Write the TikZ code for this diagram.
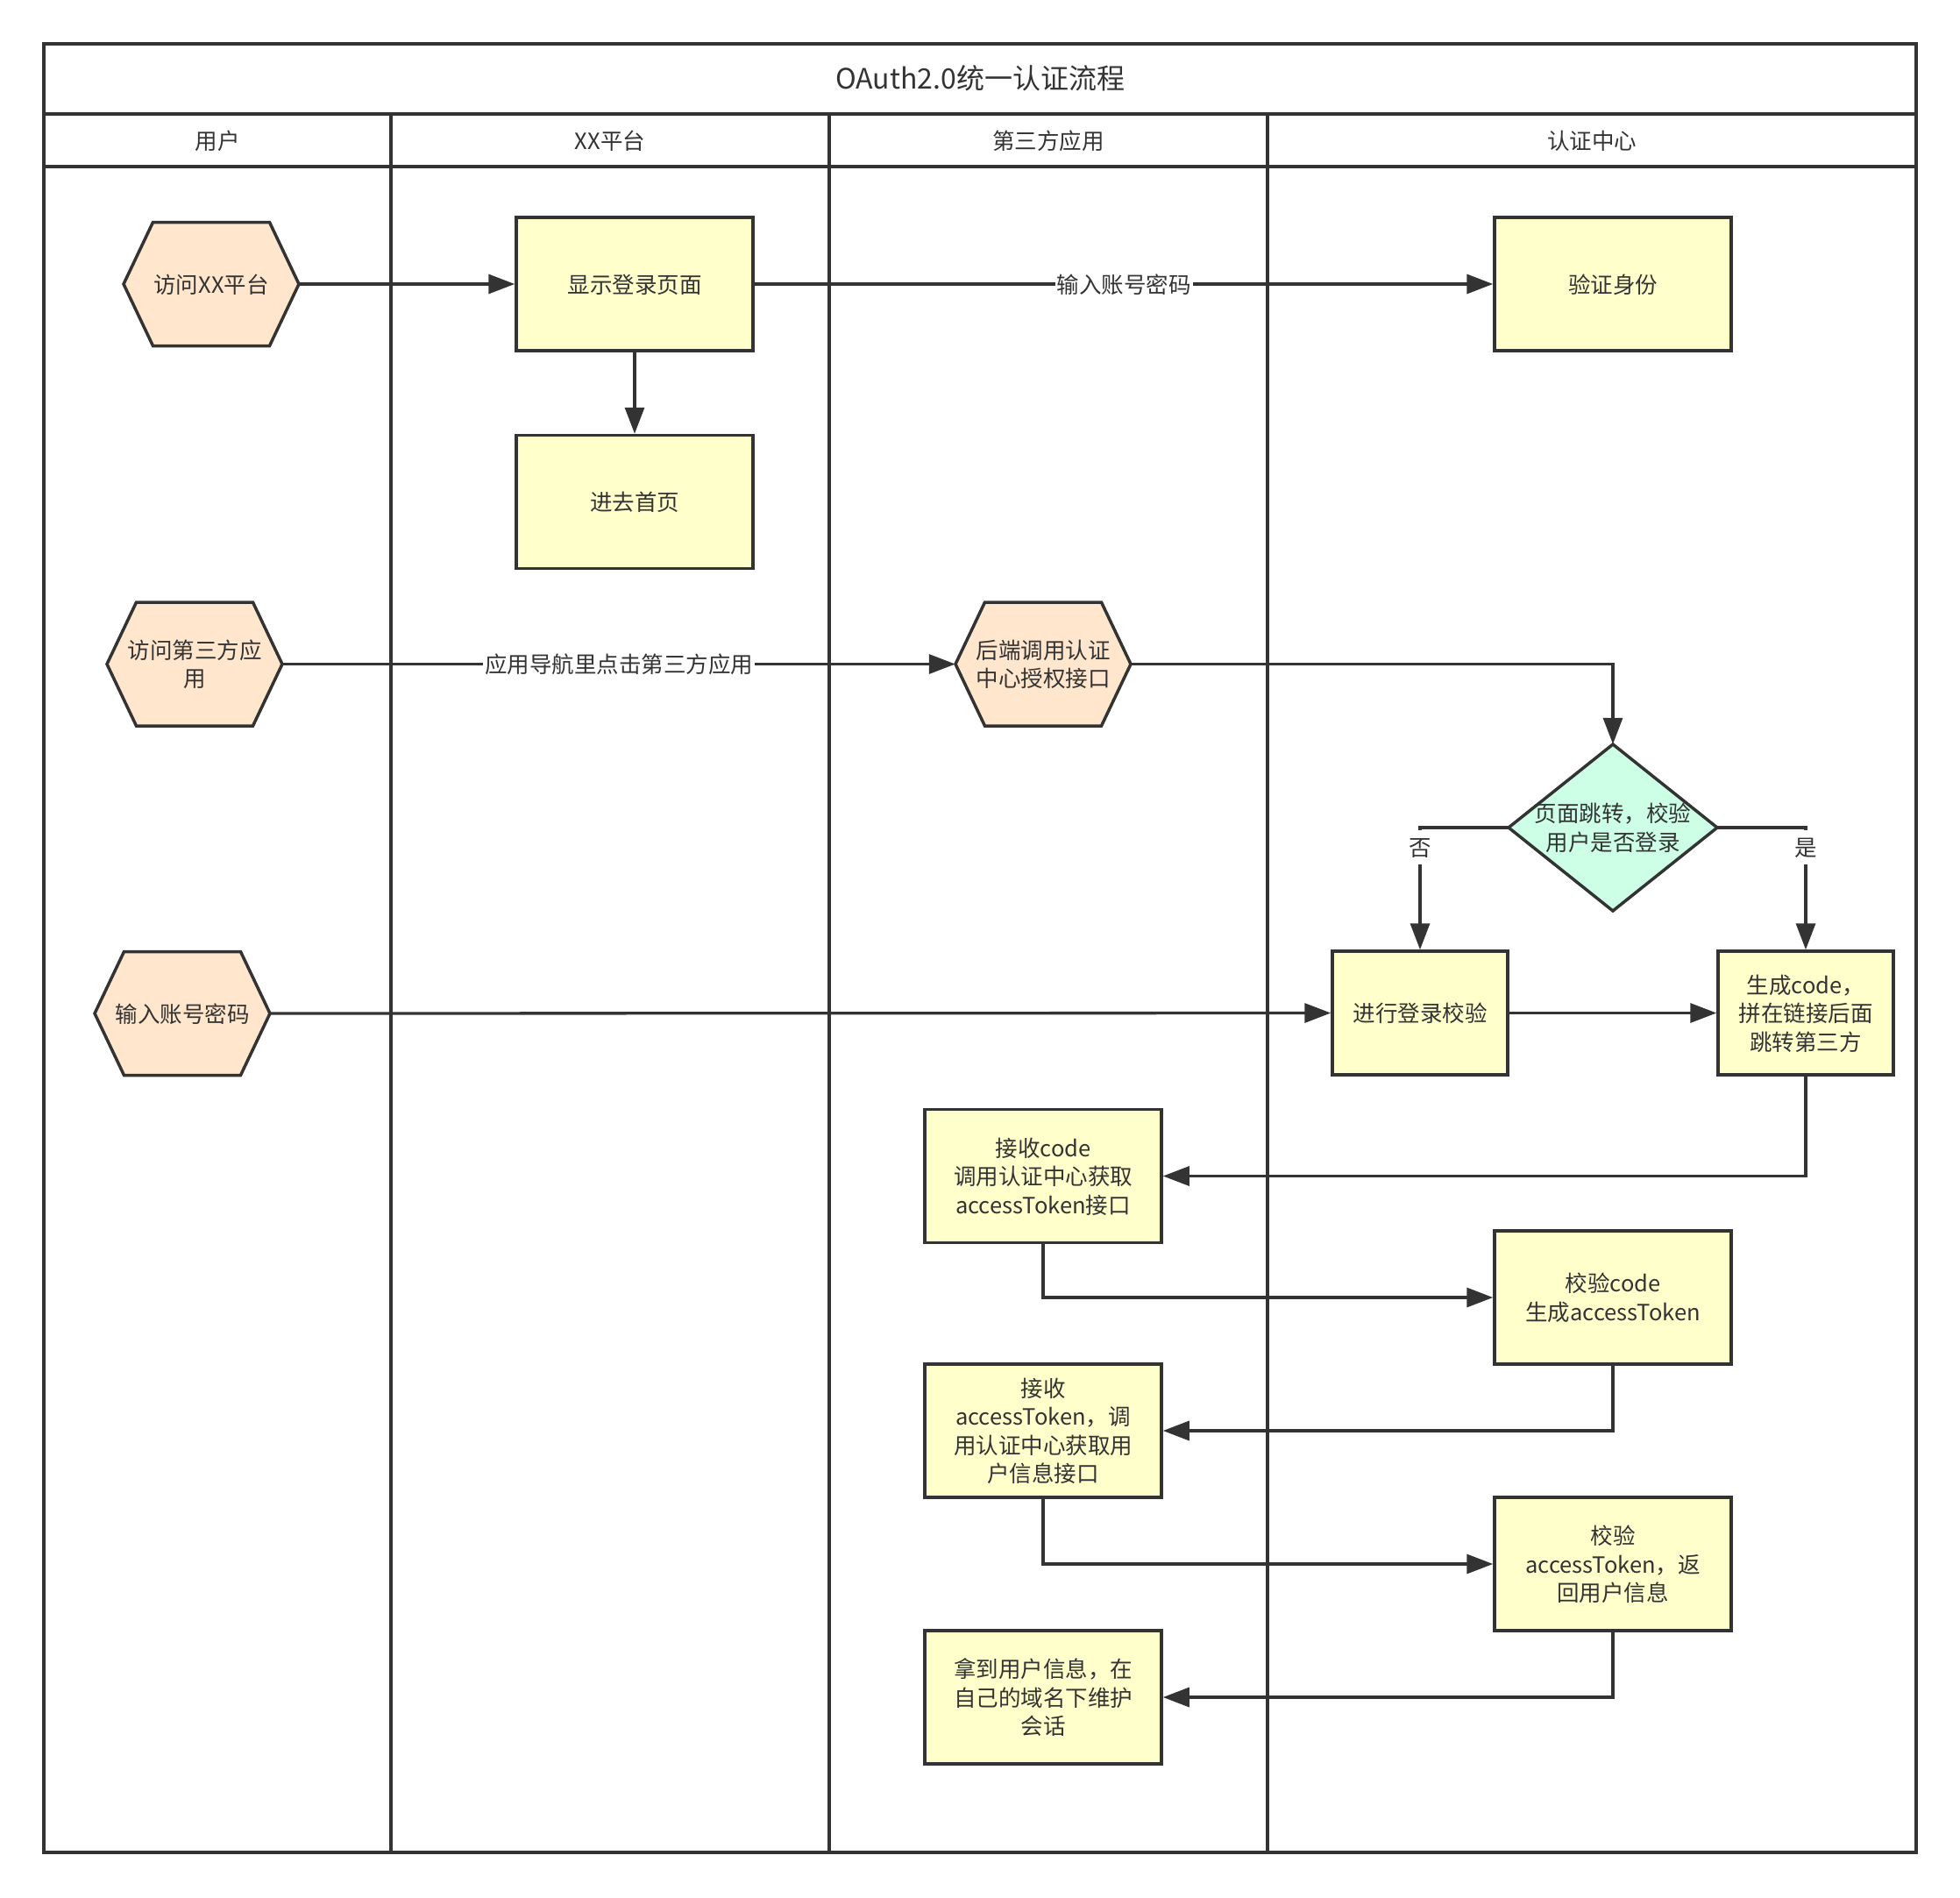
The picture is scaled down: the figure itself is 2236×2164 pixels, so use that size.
\documentclass[tikz,border=0pt]{standalone}
\usepackage{fontspec}
\setmainfont{Noto Sans CJK SC}
\usetikzlibrary{arrows.meta}

\definecolor{ink}{HTML}{333333}
\definecolor{boxfill}{HTML}{FFFFCC}
\definecolor{hexfill}{HTML}{FFE6CC}
\definecolor{decfill}{HTML}{CCFFE6}

\newcommand{\bodysize}{\fontsize{25.5}{32.5}\selectfont}
\newcommand{\titlesize}{\fontsize{32}{38}\selectfont}
% centred text block, nudged down a little so the glyphs sit optically centred
\newcommand{\tx}[1]{\raisebox{-3.5pt}[\height][\depth]{\begin{tabular}{@{}c@{}}#1\end{tabular}}}

% hexagon (200 x 141) centred at (#2,#3), carrying a label node named #1
\newcommand{\hexstep}[4]{%
  \filldraw[hexline] (#2-100,#3) -- (#2-66.5,#3-70.5) -- (#2+66.5,#3-70.5)
    -- (#2+100,#3) -- (#2+66.5,#3+70.5) -- (#2-66.5,#3+70.5) -- cycle;
  \node[hexlabel] (#1) at (#2,#3) {\tx{#4}};
}

\begin{document}
\begin{tikzpicture}[x=1pt,y=-1pt,
  lane/.style={draw=ink,line width=3.5},
  hexline/.style={draw=ink,fill=hexfill,line width=3.5,line join=miter},
  hexlabel/.style={minimum width=200,minimum height=141,inner sep=0,
    text=ink,font=\bodysize},
  bigbox/.style={draw=ink,fill=boxfill,line width=3.5,minimum width=270,
    minimum height=152,inner sep=0,text=ink,font=\bodysize},
  smallbox/.style={bigbox,minimum width=200,minimum height=141},
  decision/.style={minimum width=238,minimum height=190,inner sep=0,
    text=ink,font=\bodysize},
  headtext/.style={text=ink,font=\bodysize},
  conn/.style={draw=ink,line width=3.3,-{Triangle[length=30,width=22]}},
  elabel/.style={fill=white,inner xsep=2,inner ysep=3,text=ink,font=\bodysize}
]
\useasboundingbox (0,0) rectangle (2236,2164);

% swimlane frame
\draw[lane] (50,50) rectangle (2186,2113);
\draw[lane] (50,130) -- (2186,130);
\draw[lane] (50,190) -- (2186,190);
\draw[lane] (446,130) -- (446,2113);
\draw[lane] (946,130) -- (946,2113);
\draw[lane] (1446,130) -- (1446,2113);

\node[text=ink,font=\titlesize] (title) at (1118,90) {\tx{OAuth2.0统一认证流程}};
\node[headtext] (laneuser) at (248,160) {\tx{用户}};
\node[headtext] (laneplat) at (696,160) {\tx{XX平台}};
\node[headtext] (laneapp)  at (1196,160) {\tx{第三方应用}};
\node[headtext] (laneauth) at (1816,160) {\tx{认证中心}};

% user lane and third-party events
\hexstep{visitplat}{241}{324}{访问XX平台}
\hexstep{visitapp}{222}{757.5}{访问第三方应\\用}
\hexstep{backend}{1190}{757.5}{后端调用认证\\中心授权接口}
\hexstep{inputpwd}{208}{1156}{输入账号密码}

% decision
\filldraw[draw=ink,fill=decfill,line width=3.5] (1721,944) -- (1840,849)
  -- (1959,944) -- (1840,1039) -- cycle;
\node[decision] (check) at (1840,944) {\tx{页面跳转，校验\\用户是否登录}};

% process steps
\node[bigbox] (showlogin) at (724,324) {\tx{显示登录页面}};
\node[bigbox] (home) at (724,572.5) {\tx{进去首页}};
\node[bigbox] (verify) at (1840,324) {\tx{验证身份}};
\node[smallbox] (dologin) at (1620,1155.5) {\tx{进行登录校验}};
\node[smallbox] (gencode) at (2060,1155.5) {\tx{生成code，\\拼在链接后面\\跳转第三方}};
\node[bigbox] (recvcode) at (1190,1341.5) {\tx{接收code\\调用认证中心获取\\accessToken接口}};
\node[bigbox] (checkcode) at (1840,1480) {\tx{校验code\\生成accessToken}};
\node[bigbox] (recvtoken) at (1190,1632) {\tx{接收\\accessToken，调\\用认证中心获取用\\户信息接口}};
\node[bigbox] (checktoken) at (1840,1784) {\tx{校验\\accessToken，返\\回用户信息}};
\node[bigbox] (session) at (1190,1936) {\tx{拿到用户信息，在\\自己的域名下维护\\会话}};

% connectors
\draw[conn] (visitplat.east) -- (showlogin.west);
\draw[conn] (showlogin.south) -- (home.north);
\draw[conn] (showlogin.east) -- node[elabel] {\tx{输入账号密码}} (verify.west);
\draw[conn] (visitapp.east) -- node[elabel] {\tx{应用导航里点击第三方应用}} (backend.west);
\draw[conn] (backend.east) -| (check.north);
\draw[conn] (check.west) -| node[elabel,pos=0.58] {\tx{否}} (dologin.north);
\draw[conn] (check.east) -| node[elabel,pos=0.58] {\tx{是}} (gencode.north);
\draw[conn] (inputpwd.east) -- (dologin.west);
\draw[conn] (dologin.east) -- (gencode.west);
\draw[conn] (gencode.south) |- (recvcode.east);
\draw[conn] (recvcode.south) |- (checkcode.west);
\draw[conn] (checkcode.south) |- (recvtoken.east);
\draw[conn] (recvtoken.south) |- (checktoken.west);
\draw[conn] (checktoken.south) |- (session.east);
\end{tikzpicture}
\end{document}
